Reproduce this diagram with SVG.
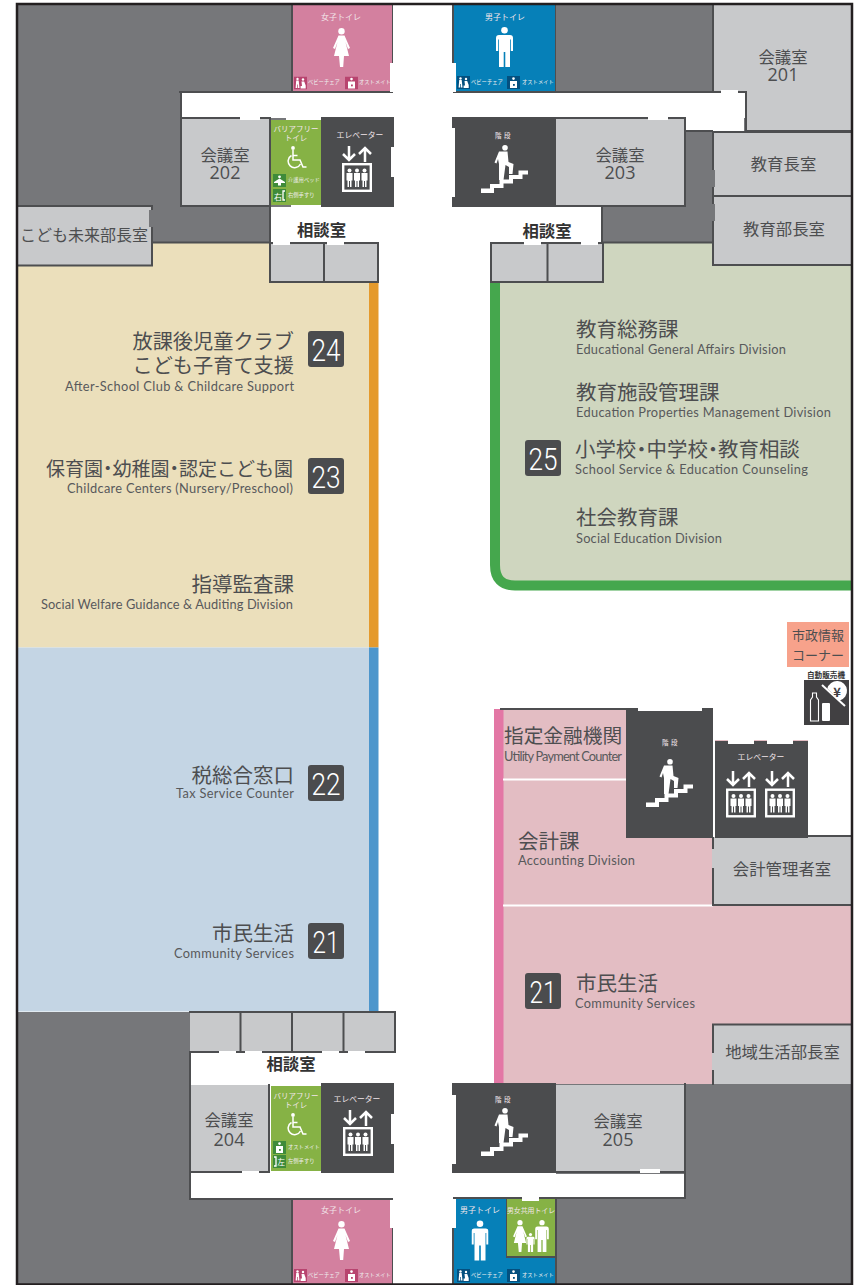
<svg xmlns="http://www.w3.org/2000/svg" width="858" height="1285" viewBox="0 0 858 1285">
<style>
text{font-family:"Noto Sans CJK JP","Noto Sans",sans-serif;fill:#4d4e50}
.g{fill:#76777a}.r{fill:#c8c9cb}.d{fill:#4b4c4e}.w{fill:#fff}
.wall{fill:none;stroke:#4d4e50;stroke-width:2;stroke-linecap:square}
.jp{font-size:20.500px}
.rm{font-size:16.400px;text-anchor:middle}
.num{font-size:18px;text-anchor:middle;font-family:"Open Sans","Noto Sans",sans-serif}
.cs{font-size:16.400px;font-weight:700;text-anchor:middle;fill:#333}
.en{font-size:12.800px;font-family:"Lato","Noto Sans",sans-serif;fill:#58595b}
.e{text-anchor:end}
.dot{font-feature-settings:"palt"}
.bd{fill:#4b4c4e}
.bn{font-size:32px;fill:#fff;font-family:"Roboto","Lato",sans-serif;font-weight:300}
.t{font-size:8px;text-anchor:middle;fill:#f2e6ea}
.st{font-size:6.500px;letter-spacing:2.500px}
.tiny{font-size:5.300px;fill:#eee}
.ic{fill:#fff}
.ics{fill:none;stroke:#fff}
</style>
<defs>
<symbol id="woman" viewBox="0 0 17 39"><circle class="ic" cx="8.5" cy="3.2" r="3.2"/><path class="ic" d="M5.500 7.500H11.500L17 20L15 21L12.500 14L16 28H11L10.200 39H7L6 28H1L4.500 14L2 21L0 20Z"/></symbol>
<symbol id="man" viewBox="0 0 17 40"><circle class="ic" cx="8.5" cy="3.3" r="3.3"/><path class="ic" d="M3 8H14Q17 8 17 11V24H14.800V12.500H14V40H9.300V25H7.700V40H3V12.500H2.200V24H0V11Q0 8 3 8Z"/></symbol>
<symbol id="stairs" viewBox="0 0 48 48"><circle class="ic" cx="24" cy="2.8" r="2.8"/><path class="ic" d="M18 6.500H26.500L27.500 17L32.500 19L31.500 29H28L28 22L24.500 20L22.500 35H18V19L17 14L15.500 18.500L13.500 17.500Z"/><path class="ic" d="M0 48V43.500H9V39H18.500V34.500H28V30H37.500V25.500H47V29.500H41.500V34H32V38.500H22.500V43H13V48Z"/></symbol>
<symbol id="arrows" viewBox="0 0 30 16"><path class="ics" stroke-width="2.500" d="M7 0V14M1 8L7 14L13 8M23 16V2M17 8L23 2L29 8"/></symbol>
<symbol id="lift" viewBox="0 0 30 29"><rect x="1.200" y="1.200" width="27.600" height="26.600" fill="#4b4c4e" stroke="#fff" stroke-width="2.400"/><g class="ic"><circle cx="7.500" cy="7.500" r="2"/><path d="M4.500 10H10.500V17.500H9.500V24H8V18H7V24H5.500V17.500H4.500Z"/><circle cx="15" cy="7.500" r="2"/><path d="M12 10H18V17.500H17V24H15.500V18H14.500V24H13V17.500H12Z"/><circle cx="22.500" cy="7.500" r="2"/><path d="M19.500 10H25.500V17.500H24.500V24H23V18H22V24H20.500V17.500H19.500Z"/></g></symbol>
<symbol id="wheel" viewBox="0 0 20 23"><circle class="ic" cx="6" cy="2" r="1.900"/><path class="ics" stroke-width="1.500" d="M6 4V14H13L16 21H19.500M10.500 9.500H6M4.500 9.500A6.500 6.500 0 1 0 13.500 18"/></symbol>
<symbol id="baby" viewBox="0 0 13 13"><rect width="13" height="13" fill="currentColor"/><circle class="ic" cx="3.500" cy="2.500" r="1.200"/><path class="ic" d="M2.200 4H4.700L5.500 11.500H4V8H3.300V11.500H1.600Z"/><circle class="ic" cx="9" cy="3" r="1.200"/><path class="ic" d="M7.500 5H10.200L11.700 9V12H6.600V9.500H8Z"/></symbol>
<symbol id="osto" viewBox="0 0 13 13"><rect width="13" height="13" fill="currentColor"/><circle class="ic" cx="6.500" cy="2.600" r="1.300"/><path class="ic" d="M3 5H10V12H3Z"/><rect x="6" y="8" width="1.800" height="1.800" fill="currentColor"/></symbol>
<symbol id="bed" viewBox="0 0 13 13"><rect width="13" height="13" fill="#3f8b3a"/><circle class="ic" cx="6.500" cy="2.800" r="1.400"/><path class="ic" d="M1 8L6.500 4.500L12 8V9H8V11.500H5V9H1Z"/></symbol>
</defs>

<g id="ground">
<rect x="18" y="5" width="273" height="238" class="g"/>
<rect x="556" y="5" width="296" height="238" class="g"/>
<rect x="18" y="1012" width="172" height="272" class="g"/>
<rect x="190" y="1199" width="102" height="85" class="g"/>
<rect x="556" y="1084" width="296" height="200" class="g"/>
</g>

<g id="zone-24-23"><rect x="18" y="242" width="352" height="405.500" fill="#ebdfbb"/><rect x="369" y="283" width="9.500" height="364.500" fill="#e59a2c"/></g>
<g id="zone-22-21"><rect x="18" y="647.500" width="352" height="364" fill="#c4d5e4"/><rect x="369" y="647.500" width="9.500" height="364" fill="#4d96cc"/></g>
<g id="zone-25">
<path d="M495 283V565Q495 585 515 585H852V243H495Z" fill="#cfd6bf"/>
<path d="M495 283V565Q495 585.500 515 585.500H852" fill="none" stroke="#45a74d" stroke-width="10"/>
</g>
<g id="zone-pink">
<rect x="498" y="709" width="354" height="375" fill="#e3bdc3"/>
<rect x="808" y="709" width="44" height="128" class="w"/><rect x="713" y="709" width="100" height="31" class="w"/>
<rect x="494" y="709" width="9.500" height="375" fill="#e377a5"/>
<path class="wall" d="M501 709H626"/>
<path d="M503 779.500H626M503 905.500H713" stroke="#fff" stroke-width="2" fill="none"/>
</g>

<g id="corridors">
<rect x="181" y="93" width="564" height="25" class="w"/>
<rect x="685" y="118" width="59" height="13" class="w"/>
<rect x="271" y="207" width="331" height="35" class="w"/>
<rect x="394" y="5" width="58" height="1279" class="w"/>
<rect x="190" y="1053" width="204" height="30" class="w"/>
<rect x="190" y="1174" width="494" height="24" class="w"/>
</g>

<g id="room-201"><path d="M714 5H852V131H746V92H714Z" class="r"/><path class="wall" d="M713 5V92M746 92V131H851"/><text class="rm" x="783" y="63">会議室</text><text class="num" x="783" y="81">201</text></g>
<g id="room-202"><rect x="181" y="119" width="89" height="86" class="r"/><path class="wall" d="M181 92V206H270V118H181"/><text class="rm" x="225" y="161">会議室</text><text class="num" x="225" y="179">202</text></g>
<g id="room-203"><rect x="556" y="119" width="129" height="86" class="r"/><path class="wall" d="M556 118H685V206H556"/><text class="rm" x="620" y="161">会議室</text><text class="num" x="620" y="179">203</text></g>
<g id="room-204"><rect x="190" y="1085" width="78" height="86" class="r"/><path class="wall" d="M190 1085V1172H269V1085"/><text class="rm" x="229" y="1126">会議室</text><text class="num" x="229" y="1146">204</text></g>
<g id="room-205"><rect x="556" y="1085" width="128" height="86" class="r"/><path class="wall" d="M685 1084V1198M556 1172H685"/><text class="rm" x="618" y="1127">会議室</text><text class="num" x="618" y="1146">205</text></g>
<g id="room-kyoikucho"><rect x="714" y="133" width="138" height="62" class="r"/><path class="wall" d="M713 132V196H851M713 132H851"/><rect x="712" y="170" width="3" height="17" class="g"/><text class="rm" x="783.500" y="170">教育長室</text></g>
<g id="room-kyoikubucho"><rect x="714" y="197" width="138" height="68" class="r"/><path class="wall" d="M713 196V265H851"/><rect x="712" y="204" width="3" height="17" class="g"/><text class="rm" x="784" y="235">教育部長室</text></g>
<g id="room-kodomo"><rect x="18" y="207" width="134" height="58" class="r"/><path class="wall" d="M18 206H152V265.500H18"/><rect x="149" y="210" width="4" height="17" class="g"/><text class="rm" x="84" y="241" style="font-size:16px">こども未来部長室</text></g>
<g id="room-kaikei"><rect x="714" y="837" width="138" height="68" class="r"/><path class="wall" d="M808 836H851M713 838V905H851"/><rect x="712" y="849" width="3" height="19" fill="#c8c9cb"/><text class="rm" x="782" y="875">会計管理者室</text></g>
<g id="room-chiiki"><rect x="714" y="1025" width="138" height="59" class="r"/><path class="wall" d="M713 1025V1084M713 1024.500H851"/><rect x="712" y="1053" width="3" height="17" fill="#c8c9cb"/><text class="rm" x="782.500" y="1058">地域生活部長室</text></g>

<g id="walls">
<path class="wall" d="M180 92H392M454 92H746M153 242.500H270M603 242.500H713M270 206V242M602 207V242M190 1052V1199H392M454 1198H684M292 5V92M555 5V92M292 1199V1284M556 1199V1284M392 5V63M453 5V63M392 1228V1284M453 1228V1284M712 131H685"/>
</g>

<g id="soudan-1"><rect x="270" y="243" width="108" height="39" class="r"/><path class="wall" d="M270 243H378V282H270ZM324 243V282"/><text class="cs" x="321.500" y="236">相談室</text></g>
<g id="soudan-2"><rect x="491" y="243" width="112" height="39" class="r"/><path class="wall" d="M491 243H603V282H491ZM547.500 243V282"/><text class="cs" x="547" y="237">相談室</text></g>
<g id="soudan-3"><rect x="190" y="1012" width="205" height="40" class="r"/><path class="wall" d="M190 1012H395V1052H190M240.500 1012V1052M292 1012V1052M343.500 1012V1052"/><text class="cs" x="291" y="1070">相談室</text></g>

<g id="toilet-w1"><rect x="293" y="5" width="99" height="86" fill="#d3809f"/><text class="t" x="341" y="20">女子トイレ</text><use href="#woman" x="333" y="28" width="17" height="39"/><use href="#baby" x="294" y="76.500" width="13" height="13" color="#b8446f"/><text class="tiny" x="308" y="84">ベビーチェア</text><use href="#osto" x="345" y="76.500" width="13" height="13" color="#b8446f"/><text class="tiny" x="359" y="84">オストメイト</text></g>
<g id="toilet-m1"><rect x="454" y="5" width="101" height="86" fill="#0680b8"/><text class="t" x="505" y="20">男子トイレ</text><use href="#man" x="496" y="27" width="17" height="40"/><use href="#baby" x="457" y="76" width="13" height="13" color="#04507f"/><text class="tiny" x="471" y="84">ベビーチェア</text><use href="#osto" x="507" y="76" width="13" height="13" color="#04507f"/><text class="tiny" x="522" y="84">オストメイト</text></g>
<g id="toilet-w2"><rect x="293" y="1200" width="99" height="84" fill="#d3809f"/><text class="t" x="341" y="1213">女子トイレ</text><use href="#woman" x="333" y="1221" width="17" height="39"/><use href="#baby" x="294" y="1269" width="13" height="13" color="#b8446f"/><text class="tiny" x="308" y="1277">ベビーチェア</text><use href="#osto" x="345" y="1269" width="13" height="13" color="#b8446f"/><text class="tiny" x="359" y="1277">オストメイト</text></g>
<g id="toilet-m2"><rect x="454" y="1199" width="101" height="85" fill="#0680b8"/><text class="t" x="480" y="1213">男子トイレ</text><use href="#man" x="471.500" y="1220" width="17" height="41"/><use href="#baby" x="457" y="1269" width="13" height="13" color="#04507f"/><text class="tiny" x="471" y="1277">ベビーチェア</text><use href="#osto" x="507" y="1269" width="13" height="13" color="#04507f"/><text class="tiny" x="522" y="1277">オストメイト</text></g>
<g id="toilet-family"><rect x="506" y="1198" width="49" height="60" fill="#4d4e50"/><rect x="507" y="1199" width="48" height="57" fill="#86b245"/><text class="t" x="531" y="1213" style="font-size:6.900px">男女共用トイレ</text><use href="#woman" x="513" y="1220" width="14" height="32"/><use href="#man" x="525" y="1233" width="11" height="19"/><use href="#man" x="535" y="1220" width="14" height="32"/></g>

<g id="bf-1"><rect x="271" y="120" width="50" height="85" fill="#86b245"/><text class="t" x="296" y="132" style="font-size:7.500px">バリアフリー</text><text class="t" x="296" y="141" style="font-size:7.500px">トイレ</text><use href="#wheel" x="287" y="146" width="20" height="23"/><use href="#bed" x="273" y="174" width="13" height="13"/><text class="tiny" x="288" y="182">介護用ベッド</text><rect x="273" y="189" width="13" height="13" fill="#3f8b3a"/><text x="274" y="199.500" style="font-size:8px;fill:#fff">右</text><path class="ics" stroke-width="1.300" d="M285 191H283V200H285"/><text class="tiny" x="288" y="197">右側手すり</text></g>
<g id="bf-2"><rect x="271" y="1086" width="50" height="85" fill="#86b245"/><text class="t" x="296" y="1099" style="font-size:7.500px">バリアフリー</text><text class="t" x="296" y="1108" style="font-size:7.500px">トイレ</text><use href="#wheel" x="287" y="1113" width="20" height="23"/><use href="#osto" x="273" y="1141" width="13" height="13" color="#3f8b3a"/><text class="tiny" x="288" y="1149">オストメイト</text><rect x="273" y="1155" width="13" height="13" fill="#3f8b3a"/><path class="ics" stroke-width="1.300" d="M274 1157H276V1166H274"/><text x="277.500" y="1165" style="font-size:7.500px;fill:#fff">左</text><text class="tiny" x="288" y="1163">左側手すり</text></g>

<g id="ev-1"><rect x="321" y="117" width="73" height="90" class="d"/><text class="t" x="360" y="138" style="font-size:7.800px">エレベーター</text><use href="#arrows" x="342" y="146" width="30" height="16"/><use href="#lift" x="342" y="163" width="30" height="29"/></g>
<g id="ev-2"><rect x="321" y="1083" width="73" height="90" class="d"/><text class="t" x="357" y="1102" style="font-size:7.800px">エレベーター</text><use href="#arrows" x="343" y="1110" width="30" height="16"/><use href="#lift" x="343" y="1127" width="30" height="29"/></g>
<g id="ev-3"><rect x="715" y="741" width="93" height="97" class="d"/><text class="t" x="761" y="760" style="font-size:7.800px">エレベーター</text><use href="#arrows" x="726" y="771" width="30" height="16"/><use href="#lift" x="726" y="788" width="30" height="30"/><use href="#arrows" x="765" y="771" width="30" height="16"/><use href="#lift" x="765" y="788" width="30" height="30"/></g>
<g id="stairs-1"><rect x="452" y="117" width="104" height="90" class="d"/><text class="t st" x="504" y="138">階段</text><use href="#stairs" x="481" y="145" width="48" height="48"/></g>
<g id="stairs-2"><rect x="452" y="1083" width="104" height="90" class="d"/><text class="t st" x="504" y="1102">階段</text><use href="#stairs" x="481" y="1108" width="48" height="48"/></g>
<g id="stairs-3"><rect x="626" y="708" width="87" height="130" class="d"/><text class="t st" x="671" y="745">階段</text><use href="#stairs" x="646" y="759" width="48" height="48"/></g>

<g id="notches" class="w">
<rect x="390" y="63" width="4" height="29"/><rect x="452" y="63" width="4" height="29"/>
<rect x="390" y="1200" width="4" height="28"/><rect x="452" y="1199" width="4" height="29"/>
<rect x="391" y="147" width="3" height="30"/><rect x="452" y="128" width="3" height="69"/>
<rect x="391" y="1114" width="3" height="30"/><rect x="452" y="1095" width="4" height="69"/>
<rect x="240" y="117" width="20" height="3"/><rect x="286" y="117" width="17" height="3"/><rect x="648" y="116" width="20" height="4"/><rect x="721" y="90" width="17" height="3"/>
<rect x="273" y="242" width="17" height="3"/><rect x="327" y="242" width="17" height="3"/><rect x="524" y="242" width="17" height="3"/><rect x="581" y="242" width="17" height="3"/>
<rect x="219" y="1051" width="17" height="3"/><rect x="245" y="1051" width="17" height="3"/><rect x="322" y="1051" width="17" height="3"/><rect x="348" y="1051" width="17" height="3"/>
<rect x="242" y="1171" width="17" height="3"/><rect x="287" y="1171" width="17" height="3"/><rect x="640" y="1169" width="20" height="4"/><rect x="522" y="1197" width="17" height="4"/>
<rect x="638" y="707" width="64" height="4"/><rect x="728" y="740" width="26" height="4"/><rect x="767" y="740" width="26" height="4"/>
<rect x="713" y="709" width="2" height="128"/>
</g>

<g id="label-24"><text class="jp e" x="294" y="349" style="font-size:20.200px">放課後児童クラブ</text><text class="jp e" x="294" y="373" style="font-size:20.200px">こども子育て支援</text><text class="en" x="65" y="391" textLength="229">After-School Club &amp; Childcare Support</text><rect x="308" y="331" width="36" height="36" rx="3" class="bd"/><text class="bn" x="311.500" y="360.500" textLength="29" lengthAdjust="spacingAndGlyphs">24</text></g>
<g id="label-23"><text class="jp" x="46" y="476" style="font-size:19px">保育園<tspan class="dot">・</tspan>幼稚園<tspan class="dot">・</tspan>認定こども園</text><text class="en" x="67" y="493" textLength="226">Childcare Centers (Nursery/Preschool)</text><rect x="308" y="458" width="36" height="36" rx="3" class="bd"/><text class="bn" x="311.500" y="487.500" textLength="29" lengthAdjust="spacingAndGlyphs">23</text></g>
<g id="label-shido"><text class="jp e" x="294" y="592">指導監査課</text><text class="en" x="41" y="609" textLength="252">Social Welfare Guidance &amp; Auditing Division</text></g>
<g id="label-22"><text class="jp e" x="294" y="783">税総合窓口</text><text class="en" x="176" y="798" textLength="118">Tax Service Counter</text><rect x="308" y="765" width="36" height="36" rx="3" class="bd"/><text class="bn" x="311.500" y="794.500" textLength="29" lengthAdjust="spacingAndGlyphs">22</text></g>
<g id="label-21a"><text class="jp e" x="294" y="941">市民生活</text><text class="en" x="174" y="958" textLength="120">Community Services</text><rect x="308" y="923" width="36" height="36" rx="3" class="bd"/><text class="bn" x="312.500" y="952.500" textLength="27" lengthAdjust="spacingAndGlyphs">21</text></g>
<g id="label-25">
<text class="jp" x="576" y="337">教育総務課</text><text class="en" x="576" y="354" textLength="210">Educational General Affairs Division</text>
<text class="jp" x="576" y="400">教育施設管理課</text><text class="en" x="576" y="417" textLength="255">Education Properties Management Division</text>
<text class="jp" x="575" y="457" style="font-size:20.450px">小学校<tspan class="dot">・</tspan>中学校<tspan class="dot">・</tspan>教育相談</text><text class="en" x="575" y="474" textLength="233">School Service &amp; Education Counseling</text>
<text class="jp" x="576" y="525">社会教育課</text><text class="en" x="576" y="543" textLength="146">Social Education Division</text>
<rect x="525" y="440" width="36" height="36" rx="3" class="bd"/><text class="bn" x="528.500" y="469.500" textLength="29" lengthAdjust="spacingAndGlyphs">25</text></g>
<g id="label-bank"><text class="jp" x="504" y="743" style="font-size:19.700px">指定金融機関</text><text class="en" x="504" y="761" textLength="118">Utility Payment Counter</text></g>
<g id="label-kaikei"><text class="jp" x="518" y="849">会計課</text><text class="en" x="518" y="865" textLength="117">Accounting Division</text></g>
<g id="label-21b"><text class="jp" x="576" y="991">市民生活</text><text class="en" x="575" y="1008" textLength="120">Community Services</text><rect x="525" y="973" width="36" height="36" rx="3" class="bd"/><text class="bn" x="529.500" y="1002.500" textLength="27" lengthAdjust="spacingAndGlyphs">21</text></g>

<g id="info"><rect x="787" y="622" width="62" height="45" fill="#f7a28b"/><text x="818" y="640" text-anchor="middle" style="font-size:13px">市政情報</text><text x="818" y="660" text-anchor="middle" style="font-size:13px">コーナー</text></g>
<g id="vending"><text x="826" y="678" text-anchor="middle" style="font-size:7.600px;font-weight:700;fill:#333">自動販売機</text><rect x="804" y="680" width="45" height="45" fill="#414042"/>
<path class="ics" stroke-width="1.100" d="M812.500 693H816.500V697L818.500 700V721H810.500V700L812.500 697Z"/><rect x="822" y="703" width="8" height="18" rx="1" class="ic"/>
<path class="ic" d="M827.300 688.600A10 10 0 1 1 839.700 700.600Z"/><path class="ics" stroke-width="2" d="M822 685L845 706"/><text x="837" y="697" text-anchor="middle" style="font-size:13px;font-weight:700;fill:#414042">¥</text></g>

<g id="frame"><path d="M17 1285V4H852V1285M17 1284.500H852" fill="none" stroke="#231f20" stroke-width="2.500"/></g>
</svg>
